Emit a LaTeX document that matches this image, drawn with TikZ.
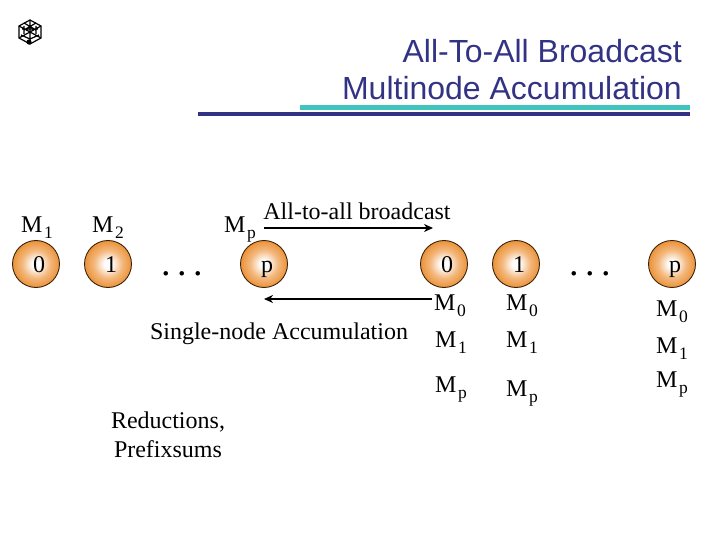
\documentclass[tikz,border=0pt]{standalone}
\usepackage{fontspec}
\setmainfont{Liberation Serif}
\newfontfamily\titlefont{Liberation Sans}
\usetikzlibrary{arrows.meta}
\definecolor{titleBlue}{RGB}{51,51,134}
\definecolor{ruleCyan}{RGB}{64,196,190}
\definecolor{ballOrange}{RGB}{236,146,56}
\pgfdeclareradialshading{ballShade}{\pgfpointorigin}{color(0bp)=(white); color(4bp)=(white); color(15bp)=(ballOrange!65); color(25bp)=(ballOrange); color(50bp)=(ballOrange)}
\newcommand{\msg}[1]{M\kern1.5pt\raisebox{-6pt}{\fontsize{17.5}{17.5}\selectfont #1}}
\begin{document}
\begin{tikzpicture}[x=1pt, y=-1pt,
  ballStyle/.style={circle, draw=black!75!ballOrange, line width=0.9pt, minimum size=47pt, inner sep=0pt, shading=ballShade},
  textStyle/.style={font=\fontsize{24}{29}\selectfont, inner sep=0pt, align=center},
  msgStyle/.style={textStyle, anchor=base},
  titleStyle/.style={font=\titlefont\fontsize{32}{38}\selectfont, text=titleBlue, inner sep=0pt},
  dotStyle/.style={font=\fontsize{38}{38}\selectfont, inner sep=0pt},
  arrowStyle/.style={line width=2pt, -{Stealth[length=9pt,width=8pt]}},
  logoStyle/.style={line width=1.2pt}]
  \useasboundingbox (0,0) rectangle (720,540);

  % title and rules
  \node[titleStyle, anchor=base east] (title_0) at (682,63) {All-To-All Broadcast};
  \node[titleStyle, anchor=base east] (title_1) at (682,100) {Multinode Accumulation};
  \fill[ruleCyan]  (300,105) rectangle (690,110);
  \fill[titleBlue] (198,112) rectangle (690,116);

  % logo
  \draw[logoStyle] (30,20) -- (41,26) -- (41,38) -- (30,44) -- (19,38) -- (19,26) -- cycle;
  \draw[logoStyle] (30,32) -- (30,20) (30,32) -- (41,38) (30,32) -- (19,38)
                   (30,32) -- (30,44) (30,32) -- (41,26) (30,32) -- (19,26)
                   (24,23) -- (36,30) (36,23) -- (24,30) (21,35) -- (30,39) -- (39,35)
                   (24,26) -- (24,34) (36,26) -- (36,34) (22,29) -- (38,29);
  \fill (29,42) circle (2.6);

  % left row
  \node[msgStyle] (m_1) at (37,233) {\msg{1}};
  \node[msgStyle] (m_2) at (108,233) {\msg{2}};
  \node[msgStyle] (m_p) at (240,233) {\msg{p}};
  \node[ballStyle] (left_0) at (36,264) {};
  \node[ballStyle] (left_1) at (108,264) {};
  \node[ballStyle] (left_p) at (264,264) {};
  \node[msgStyle] at (39,272) {0};
  \node[msgStyle] at (111,272) {1};
  \node[msgStyle] at (267,272) {p};
  \node[dotStyle, anchor=base] (dots_0) at (182,275) {.\kern6.5pt.\kern6.5pt.};

  % right row
  \node[ballStyle] (right_0) at (444,264) {};
  \node[ballStyle] (right_1) at (516,264) {};
  \node[ballStyle] (right_p) at (672,264) {};
  \node[msgStyle] at (447,272) {0};
  \node[msgStyle] at (519,272) {1};
  \node[msgStyle] at (675,272) {p};
  \node[dotStyle, anchor=base] (dots_1) at (590,275) {.\kern6.5pt.\kern6.5pt.};

  \node[msgStyle] (r0_0) at (450,310) {\msg{0}};
  \node[msgStyle] (r0_1) at (451,347) {\msg{1}};
  \node[msgStyle] (r0_p) at (451,392) {\msg{p}};
  \node[msgStyle] (r1_0) at (522,310) {\msg{0}};
  \node[msgStyle] (r1_1) at (522,347) {\msg{1}};
  \node[msgStyle] (r1_p) at (522,396) {\msg{p}};
  \node[msgStyle] (rp_0) at (672,316) {\msg{0}};
  \node[msgStyle] (rp_1) at (672,353) {\msg{1}};
  \node[msgStyle] (rp_p) at (672,387) {\msg{p}};

  % labels
  \node[msgStyle] (bcast) at (357,220) {All-to-all broadcast};
  \node[msgStyle] (accum) at (279,339) {Single-node Accumulation};
  \node[textStyle] (reduce) at (168,435) {Reductions,\\Prefixsums};

  % arrows
  \coordinate (bcast_s) at (264,228);
  \coordinate (bcast_e) at (433,228);
  \coordinate (accum_s) at (432,299);
  \coordinate (accum_e) at (264,299);
  \draw[arrowStyle] (bcast_s) -- (bcast_e);
  \draw[arrowStyle] (accum_s) -- (accum_e);
\end{tikzpicture}
\end{document}
